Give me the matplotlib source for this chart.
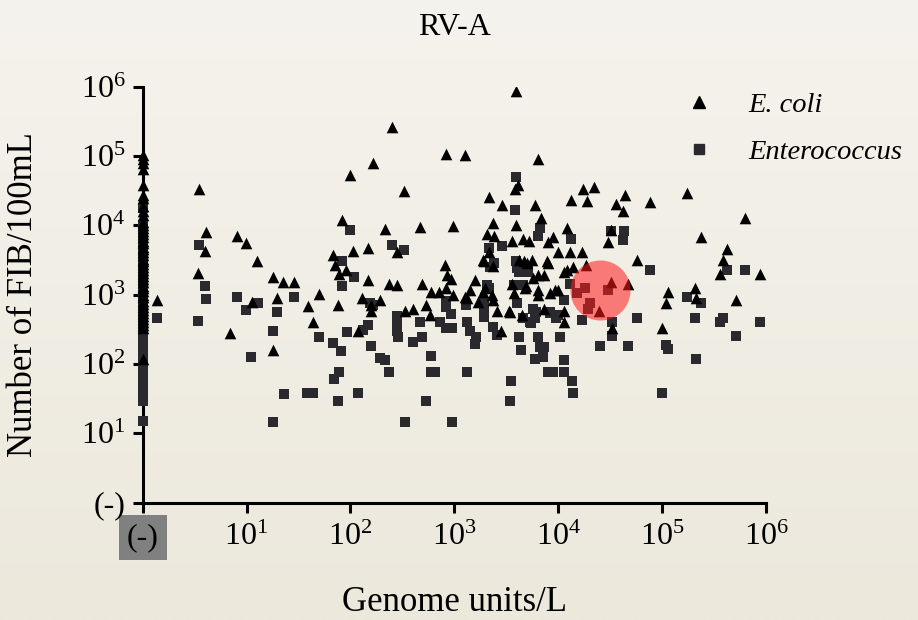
import numpy as np
import matplotlib.pyplot as plt
from matplotlib.lines import Line2D
from matplotlib.ticker import NullLocator

plt.rcParams['font.family'] = 'Liberation Serif'
plt.rcParams['mathtext.fontset'] = 'custom'
plt.rcParams['mathtext.rm'] = 'Liberation Serif'
plt.rcParams['mathtext.it'] = 'Liberation Serif:italic'

# all values are log10: x = RV-A genome units/L, y = FIB per 100 mL
ecoli_x = [0.14, 0.54, 0.61, 0.60, 0.53, 0.91, 0.99, 1.10, 1.25, 1.35,
           1.46, 1.05, 1.29, 1.59, 1.70, 0.84, 1.25, 1.64, 1.88, 1.83,
           1.85, 1.89, 1.96, 1.92, 2.00, 2.02, 2.17, 2.22, 2.40, 2.52,
           2.33, 2.45, 2.17, 2.37, 2.45, 2.11, 2.28, 2.20, 2.07, 2.53,
           2.60, 2.67, 2.69, 2.73, 2.77, 2.78, 2.85, 2.92, 2.99, 2.91,
           2.93, 2.97, 2.92, 2.99, 3.10, 3.59, 3.81, 3.61, 3.58, 3.33,
           3.46, 3.78, 3.83, 3.37, 3.59, 3.31, 3.38, 3.56, 3.66, 3.72,
           3.95, 3.90, 3.33, 4.00, 3.29, 3.62, 3.67, 3.75, 3.89, 3.20,
           3.15, 3.12, 3.23, 3.30, 3.36, 3.37, 3.41, 3.45, 3.53, 3.57,
           3.68, 3.65, 3.81, 3.81, 3.86, 3.92, 3.97, 3.81, 3.86, 3.56,
           3.70, 4.24, 4.34, 4.12, 4.28, 4.08, 4.11, 4.23, 3.90, 4.06,
           4.14, 4.00, 4.06, 4.06, 4.27, 4.51, 4.67, 4.39, 4.52, 4.56,
           4.64, 4.62, 4.88, 5.24, 5.80, 5.37, 4.51, 4.48, 4.76, 5.62,
           5.59, 5.56, 5.94, 5.06, 5.04, 5.32, 5.33, 5.71, 5.00, 3.69,
           3.54, 3.76, 4.08, 3.28, 3.37, 3.10, 3.28, 2.20]
ecoli_y = [2.92, 4.53, 3.91, 3.63, 3.31, 3.85, 3.75, 3.49, 3.26, 3.18,
           3.19, 2.90, 2.95, 2.83, 3.01, 2.45, 2.20, 2.61, 2.85, 3.57,
           3.43, 3.30, 3.36, 4.08, 4.73, 3.63, 3.67, 4.90, 5.42, 4.50,
           3.95, 3.62, 3.21, 3.15, 3.14, 2.95, 2.92, 2.77, 2.47, 2.76,
           2.80, 3.97, 3.15, 2.85, 2.71, 3.04, 3.04, 3.09, 3.00, 3.43,
           3.28, 3.23, 5.03, 3.99, 5.01, 5.94, 4.95, 4.58, 4.52, 4.41,
           4.30, 4.29, 4.10, 4.04, 4.01, 3.88, 3.85, 3.78, 3.80, 3.77,
           3.83, 3.76, 3.61, 3.62, 3.49, 3.50, 3.48, 3.50, 3.48, 3.21,
           3.07, 2.95, 2.89, 3.09, 3.00, 2.92, 2.77, 2.47, 2.77, 3.02,
           3.09, 2.71, 3.07, 3.00, 2.80, 3.02, 3.07, 3.28, 3.28, 3.16,
           3.45, 4.53, 4.56, 4.37, 4.35, 3.96, 3.62, 3.61, 3.45, 3.33,
           3.40, 3.07, 2.76, 2.60, 3.43, 3.19, 3.15, 2.77, 2.52, 4.31,
           4.44, 4.21, 4.33, 4.46, 4.10, 3.83, 3.93, 3.76, 3.50, 3.66,
           3.50, 3.30, 3.30, 3.04, 2.88, 3.09, 2.95, 2.92, 2.52, 3.12,
           2.75, 3.24, 3.36, 3.50, 3.41, 2.97, 3.04, 2.85]

entero_x = [0.14, 0.53, 0.54, 0.60, 0.61, 0.91, 1.11, 0.99, 1.46, 1.29,
            1.25, 1.04, 1.36, 1.58, 1.64, 1.88, 1.25, 1.70, 1.83, 1.91,
            1.89, 1.84, 1.97, 1.92, 1.92, 2.00, 2.03, 2.40, 2.52, 2.19,
            2.22, 2.12, 2.17, 2.07, 2.20, 2.28, 2.33, 2.37, 2.45, 2.45,
            2.45, 2.46, 2.60, 2.69, 2.67, 2.53, 2.73, 2.78, 2.78, 2.81,
            2.92, 2.92, 2.97, 2.86, 2.92, 2.98, 2.98, 3.12, 3.11, 3.12,
            3.15, 3.21, 3.20, 3.29, 3.29, 3.29, 3.31, 3.33, 3.37, 3.41,
            3.57, 3.66, 3.60, 3.66, 3.73, 3.78, 3.62, 3.64, 3.76, 3.81,
            3.82, 3.86, 3.78, 3.85, 3.90, 3.95, 3.92, 3.98, 3.55, 3.54,
            4.02, 3.34, 3.62, 3.70, 3.59, 3.58, 3.82, 3.81, 3.46, 3.33,
            3.38, 3.59, 4.12, 4.51, 4.63, 4.62, 4.11, 4.06, 4.26, 4.18,
            4.31, 4.29, 4.48, 4.88, 5.62, 5.80, 5.24, 5.37, 5.32, 5.56,
            5.59, 5.94, 5.71, 5.04, 5.06, 5.33, 5.00, 4.76, 4.67, 4.40,
            4.52, 4.52, 4.23, 4.06, 4.06, 4.13, 4.14, 4.00, 3.60, 3.71,
            3.74, 3.79, 3.92]
entero_y = [2.67, 2.62, 3.71, 3.13, 2.94, 2.96, 2.88, 2.78, 2.96, 2.75,
            2.48, 2.10, 1.57, 1.58, 1.58, 1.47, 1.17, 2.39, 2.31, 2.19,
            1.88, 1.78, 2.46, 3.48, 3.12, 3.93, 3.25, 3.72, 3.64, 2.88,
            2.85, 2.49, 2.56, 1.58, 2.26, 2.08, 2.06, 1.89, 2.69, 2.56,
            2.47, 2.39, 2.32, 2.39, 2.61, 1.17, 1.47, 2.11, 1.89, 1.89,
            2.91, 2.82, 2.72, 2.60, 2.52, 2.52, 1.17, 1.89, 2.85, 2.61,
            2.47, 2.39, 2.29, 2.90, 2.78, 2.68, 3.14, 3.09, 2.54, 2.42,
            3.14, 3.14, 2.88, 2.66, 2.61, 2.66, 2.39, 2.20, 2.80, 2.39,
            2.25, 2.24, 2.07, 2.10, 1.89, 1.89, 2.73, 2.66, 1.75, 1.47,
            2.39, 3.40, 3.33, 3.33, 4.70, 4.22, 3.96, 3.85, 3.70, 3.67,
            3.46, 3.49, 3.81, 3.92, 3.92, 3.79, 3.16, 2.92, 3.09, 3.02,
            2.88, 2.80, 3.07, 3.35, 3.35, 3.36, 2.97, 2.88, 2.67, 2.61,
            2.66, 2.61, 2.40, 2.27, 2.21, 2.07, 1.58, 2.66, 2.26, 2.26,
            2.61, 2.40, 2.63, 2.06, 1.89, 1.76, 1.58, 2.71, 3.38, 3.36,
            2.59, 2.75, 2.75]

# samples without RV-A (plotted on the "(-)" position of the x axis)
ecoli_nd_y = [5.01, 4.96, 4.90, 4.81, 4.58, 4.44, 4.39, 4.28, 4.20, 4.15,
              4.05, 4.01, 3.96, 3.92, 3.87, 3.83, 3.78, 3.74, 3.69, 3.66,
              3.61, 3.57, 3.52, 3.49, 3.44, 3.40, 3.35, 3.31, 3.27, 3.22,
              3.18, 3.13, 3.09, 3.05, 3.00, 2.96, 2.91, 2.87, 2.82, 2.78,
              2.74, 2.69, 2.65, 2.61, 2.56, 2.52, 2.07]
entero_nd_y = [4.25, 3.99, 3.93, 3.86, 3.80, 3.73, 3.67, 3.60, 3.54, 3.48,
               3.41, 3.35, 3.28, 3.22, 3.16, 3.09, 3.03, 2.97, 2.91, 2.84,
               2.78, 2.72, 2.65, 2.59, 2.53, 2.47, 2.41, 2.35, 2.29, 2.23,
               2.17, 2.11, 2.05, 1.99, 1.93, 1.87, 1.81, 1.75, 1.69, 1.63,
               1.57, 1.51, 1.46, 1.18]

highlight_x, highlight_y = 4.40, 3.07

tick_exp = [0, 1, 2, 3, 4, 5, 6]
tick_labels = ['(-)'] + ['$10^{%d}$' % e for e in tick_exp[1:]]

fig = plt.figure(figsize=(9.18, 6.2), dpi=100)

# soft beige backdrop, slightly darker towards the bottom
bg = fig.add_axes([0, 0, 1, 1], zorder=-1)
top = np.array([245, 243, 237]) / 255
bot = np.array([236, 232, 220]) / 255
t = np.linspace(0, 1, 256)[:, None, None]
bg.imshow(top + (bot - top) * t, aspect='auto', extent=(0, 1, 0, 1))
bg.set_axis_off()

ax = fig.add_axes([0.1554, 0.1892, 0.679, 0.671])
ax.set_facecolor('none')
ax.set_xscale('log')
ax.set_yscale('log')
ax.set_xlim(1, 1e6)
ax.set_ylim(1, 1e6)

sq_color = '#2a2a2e'
sq_size, tri_size = 56, 70
ax.scatter(10 ** np.array(entero_x), 10 ** np.array(entero_y), marker='s',
           s=sq_size, color=sq_color, linewidths=0, zorder=3)
ax.scatter(np.ones(len(entero_nd_y)), 10 ** np.array(entero_nd_y), marker='s',
           s=sq_size, color=sq_color, linewidths=0, zorder=3, clip_on=False)
ax.scatter(10 ** np.array(ecoli_x), 10 ** np.array(ecoli_y), marker='^',
           s=tri_size, color='black', linewidths=0, zorder=4)
ax.scatter(np.ones(len(ecoli_nd_y)), 10 ** np.array(ecoli_nd_y), marker='^',
           s=tri_size, color='black', linewidths=0, zorder=4, clip_on=False)

# highlighted cluster
ax.scatter([10 ** highlight_x], [10 ** highlight_y], s=1870, color='#ff1a1a',
           alpha=0.55, linewidths=0, zorder=5)

for side in ['top', 'right']:
    ax.spines[side].set_visible(False)
for side in ['left', 'bottom']:
    ax.spines[side].set_linewidth(2.2)

ticks = 10.0 ** np.array(tick_exp)
ax.set_xticks(ticks)
ax.set_xticklabels(tick_labels)
ax.set_yticks(ticks)
ax.set_yticklabels(tick_labels)
ax.xaxis.set_minor_locator(NullLocator())
ax.yaxis.set_minor_locator(NullLocator())
ax.tick_params(length=7.5, width=2.2, labelsize=23, direction='out')
ax.tick_params(axis='x', pad=7)
ax.tick_params(axis='y', pad=5)
ax.get_xticklabels()[0].set_bbox(dict(boxstyle='square,pad=0.25',
                                      fc='#808080', ec='none'))

ax.set_xlabel('Genome units/L', fontsize=25)
ax.xaxis.set_label_coords(0.5, -0.2)
ax.set_ylabel('Number of FIB/100mL', fontsize=25)
ax.yaxis.set_label_coords(-0.165, 0.5)

fig.text(0.495, 0.955, 'RV-A', ha='center', va='center', fontsize=23)

handles = [Line2D([], [], ls='none', marker='^', color='black', markersize=8.4),
           Line2D([], [], ls='none', marker='s', color=sq_color, markersize=7.5)]
ax.legend(handles, ['E. coli', 'Enterococcus'], loc='upper left',
          bbox_to_anchor=(0.73, 0.875), bbox_transform=fig.transFigure,
          frameon=False, borderpad=0, handlelength=1.0, handletextpad=1.25,
          labelspacing=0.75, prop={'style': 'italic', 'size': 20.5})

fig.savefig('out.png', dpi=100)
